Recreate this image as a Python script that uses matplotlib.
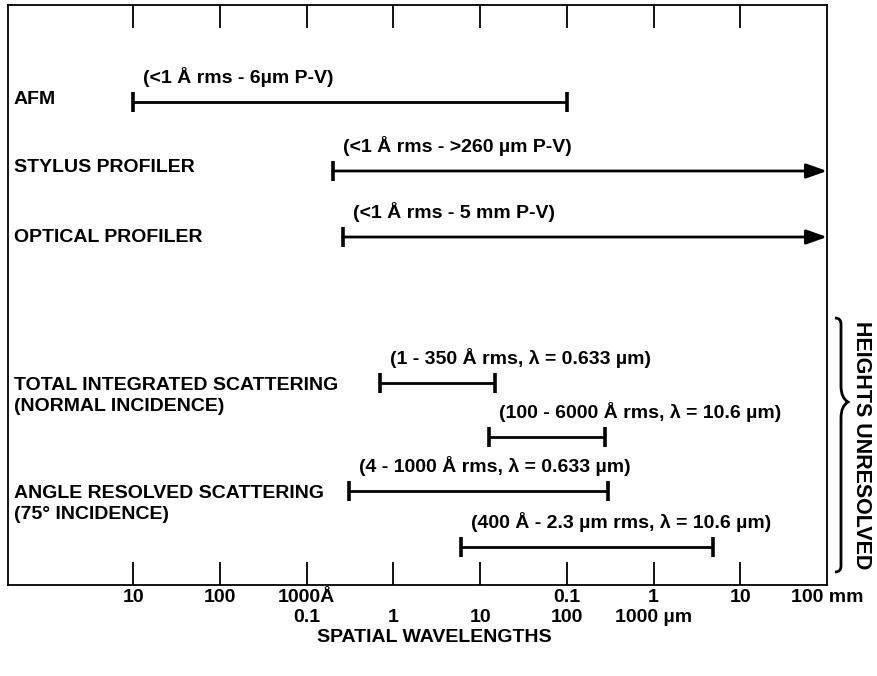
import matplotlib
matplotlib.use("Agg")
import matplotlib.pyplot as plt
from matplotlib.path import Path
from matplotlib.patches import PathPatch
from matplotlib import transforms

plt.rcParams['font.family'] = ['Liberation Sans', 'DejaVu Sans']
plt.rcParams['font.weight'] = 'bold'

# measuring techniques, lateral (spatial wavelength) ranges in metres
methods = ["AFM", "STYLUS PROFILER", "OPTICAL PROFILER",
           "TOTAL INTEGRATED SCATTERING\n(NORMAL INCIDENCE)",
           "ANGLE RESOLVED SCATTERING\n(75° INCIDENCE)"]
bar_start = [1e-9, 2e-7, 2.6e-7, 7e-7, 1.26e-5, 3.1e-7, 6.1e-6]
bar_end = [1e-4, 1e-1, 1e-1, 1.5e-5, 2.75e-4, 2.96e-4, 4.9e-3]
open_ended = [False, True, True, False, False, False, False]
bar_notes = ["(<1 Å rms - 6µm P-V)",
             "(<1 Å rms - >260 µm P-V)",
             "(<1 Å rms - 5 mm P-V)",
             "(1 - 350 Å rms, λ = 0.633 µm)",
             "(100 - 6000 Å rms, λ = 10.6 µm)",
             "(4 - 1000 Å rms, λ = 0.633 µm)",
             "(400 Å - 2.3 µm rms, λ = 10.6 µm)"]

# axis labelling, three unit scales on one log axis
decades = [1e-9, 1e-8, 1e-7, 1e-6, 1e-5, 1e-4, 1e-3, 1e-2]
row1_ticks = [1e-9, 1e-8, 1e-7, 1e-4, 1e-3, 1e-2, 1e-1]
row1_labels = ["10", "100", "1000Å", "0.1", "1", "10", "100 mm"]
row2_ticks = [1e-7, 1e-6, 1e-5, 1e-4, 1e-3]
row2_labels = ["0.1", "1", "10", "100", "1000 µm"]

# vertical layout (pixel rows)
bar_y = [102, 171, 237, 383, 437, 491, 547]
label_y = [99, 168, 238, 396, 504]

W, H = 877, 676
fig = plt.figure(figsize=(W / 100, H / 100), dpi=100)
ax = fig.add_axes([8 / W, 1 - 585 / H, (827 - 8) / W, (585 - 5) / H])
ov = fig.add_axes([0, 0, 1, 1], zorder=-1)
ov.set_xlim(0, W)
ov.set_ylim(H, 0)
ov.axis("off")

ax.set_xscale("log")
ax.set_xlim(3.6e-11, 1e-1)
ax.set_ylim(585, 5)
ax.set_yticks([])
ax.set_xticks(decades)
ax.set_xticklabels([])
ax.minorticks_off()
ax.tick_params(axis="x", which="major", direction="in", length=16.5,
               width=1.3, top=True, bottom=True, color="black")
for s in ax.spines.values():
    s.set_linewidth(1.3)

fs = 14
left_tr = transforms.blended_transform_factory(ax.transAxes, ax.transData)
for name, y in zip(methods, label_y):
    ax.text(0.007, y, name, transform=left_tr, ha="left", va="center",
            fontsize=fs, linespacing=1.32)

for x0, x1, y, arrow, note in zip(bar_start, bar_end, bar_y, open_ended, bar_notes):
    if arrow:
        ax.annotate("", xy=(x1, y), xytext=(x0, y),
                    arrowprops=dict(arrowstyle="-|>,head_length=0.9,head_width=0.32",
                                    lw=2, color="black", shrinkA=0, shrinkB=0,
                                    mutation_scale=14), annotation_clip=False)
        ax.plot([x0], [y], marker="|", ms=15, mew=2.6, color="black")
    else:
        ax.hlines(y, x0, x1, lw=2, color="black")
        ax.plot([x0, x1], [y, y], ls="none", marker="|", ms=15, mew=2.6, color="black")
    ax.annotate(note, xy=(x0, y), xytext=(10, 25), textcoords="offset pixels",
                ha="left", va="center", fontsize=fs)

# tick labels in Angstrom/mm (upper row) and micrometres (lower row)
tr = transforms.blended_transform_factory(ax.transData, ov.transData)
for x, lab in zip(row1_ticks, row1_labels):
    ax.text(x, 597, lab, transform=tr, ha="center", va="center", fontsize=fs, clip_on=False)
for x, lab in zip(row2_ticks, row2_labels):
    ax.text(x, 617, lab, transform=tr, ha="center", va="center", fontsize=fs, clip_on=False)
ov.text(434, 638, "SPATIAL WAVELENGTHS", ha="center", va="center", fontsize=fs)

# curly brace grouping the scattering methods
bx, top, tip, bot = 835, 318, 402, 572
verts = [(bx, top), (bx + 6, top), (bx + 6, top + 6), (bx + 6, top + 20),
         (bx + 6, tip - 16), (bx + 6, tip - 4), (bx + 13, tip),
         (bx + 6, tip + 4), (bx + 6, tip + 16),
         (bx + 6, bot - 20), (bx + 6, bot - 6), (bx + 6, bot), (bx, bot)]
codes = [Path.MOVETO, Path.CURVE3, Path.CURVE3, Path.LINETO,
         Path.LINETO, Path.CURVE3, Path.CURVE3, Path.CURVE3, Path.CURVE3,
         Path.LINETO, Path.LINETO, Path.CURVE3, Path.CURVE3]
ov.add_patch(PathPatch(Path(verts, codes), fc="none", ec="black", lw=2))
ov.text(862, 445, "HEIGHTS UNRESOLVED", rotation=-90, ha="center", va="center", fontsize=15.5)

fig.savefig("out.png", dpi=100)
